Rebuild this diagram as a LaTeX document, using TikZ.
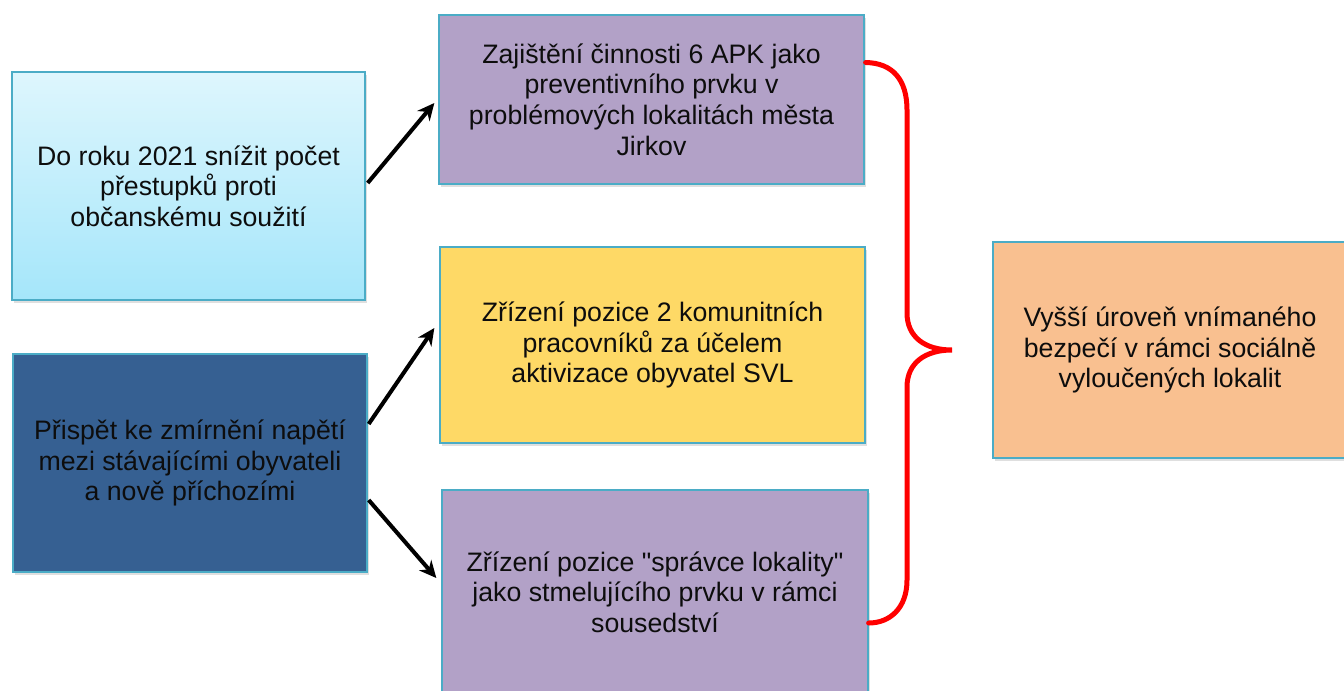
\documentclass[tikz,border=0pt]{standalone}
\usepackage{fontspec}
\setmainfont{Liberation Sans}
\usepackage{xcolor}
\usetikzlibrary{arrows.meta,calc,shadows}

\definecolor{boxline}{HTML}{4BACC6}
\definecolor{skytop}{HTML}{DEF6FD}
\definecolor{skybot}{HTML}{A5E6FA}
\definecolor{navy}{HTML}{366092}
\definecolor{lilac}{HTML}{B2A1C7}
\definecolor{gold}{HTML}{FED966}
\definecolor{peach}{HTML}{F9C090}

\begin{document}
\begin{tikzpicture}[x=0.02cm,y=-0.02cm,
		goal/.style={draw=boxline,line width=0.8pt,rectangle,align=center,inner sep=0pt,
			font=\fontsize{15.2}{17.4}\selectfont,text=black!95,
			drop shadow={opacity=0.25,shadow xshift=1.2pt,shadow yshift=-1.5pt}},
		link/.style={-{Stealth[length=0.34cm,width=0.32cm]},line width=2.3pt,black}]
		\useasboundingbox (0,0) rectangle (1344,690);

		% goals on the left
		\node[goal,top color=skytop,bottom color=skybot,minimum width=7.06cm,minimum height=4.56cm] (A) at (188.5,186)
			{Do roku 2021 snížit počet\\přestupků proti\\občanskému soužití};
		\node[goal,fill=navy,minimum width=7.08cm,minimum height=4.36cm] (B) at (190,463)
			{Přispět ke zmírnění napětí\\mezi stávajícími obyvateli\\a nově příchozími};

		% activities
		\node[goal,fill=lilac,minimum width=8.5cm,minimum height=3.38cm] (C) at (651.5,99.5)
			{Zajištění činnosti 6 APK jako\\preventivního prvku v\\problémových lokalitách města\\Jirkov};
		\node[goal,fill=gold,minimum width=8.5cm,minimum height=3.92cm] (D) at (652.5,345)
			{Zřízení pozice 2 komunitních\\pracovníků za účelem\\aktivizace obyvatel SVL};
		\node[goal,fill=lilac,minimum width=8.52cm,minimum height=4.08cm] (E) at (655,592)
			{Zřízení pozice \textquotedbl správce lokality\textquotedbl\\jako stmelujícího prvku v rámci\\sousedství};

		% result
		\node[goal,fill=peach,minimum width=7.08cm,minimum height=4.32cm] (F) at (1170,350)
			{Vyšší úroveň vnímaného\\bezpečí v rámci sociálně\\vyloučených lokalit};

		\draw[link] ($(A.east)+(2,-3)$) -- ($(C.west)+(-4,3.5)$);
		\draw[link] ($(B.east)+(1,-39)$) -- ($(D.west)+(-5,-17)$);
		\draw[link] ($(B.east)+(1,37)$) -- ($(E.west)+(-5,-14)$);

		% brace
		\coordinate (btop) at ($(C.east)+(1,-37)$);
		\coordinate (btip) at (952,350);
		\coordinate (bbot) at ($(E.east)+(0,31)$);
		\draw[red,line width=0.1cm,line cap=round] (btop) .. controls (893,63) and (907,80) .. (907,110) -- (907,313)
			.. controls (907,337) and (925,350) .. (btip) .. controls (925,350) and (907,363) .. (907,387) -- (907,580)
			.. controls (907,608) and (890,623) .. (bbot);
	\end{tikzpicture}
\end{document}
